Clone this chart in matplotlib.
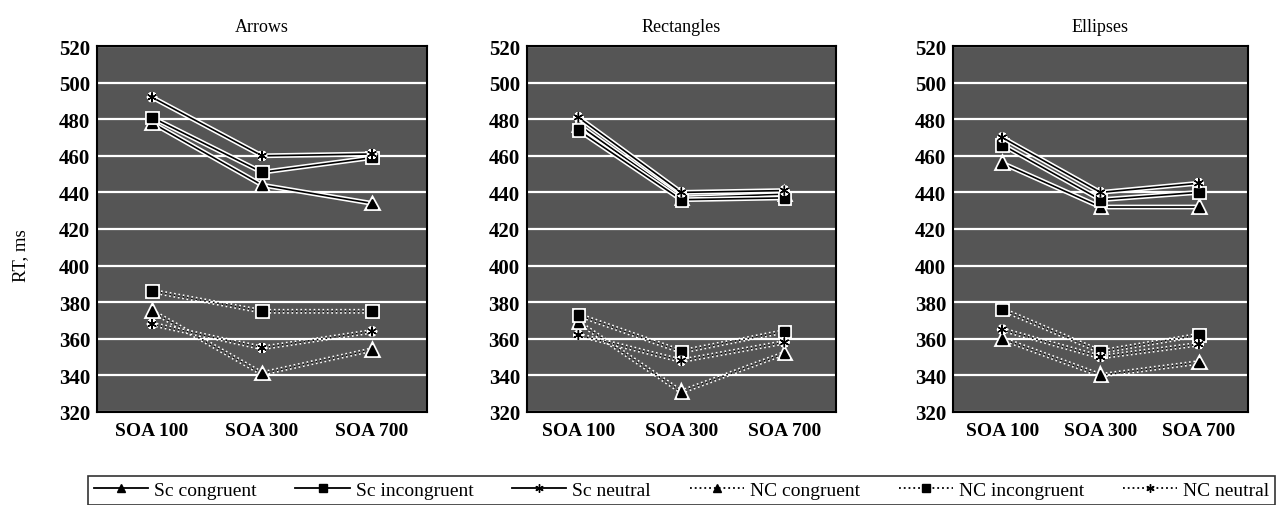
import matplotlib
matplotlib.use("Agg")
import matplotlib.pyplot as plt
import matplotlib.patheffects as pe
from matplotlib.lines import Line2D

plt.rcParams['font.family'] = ['Liberation Serif', 'DejaVu Serif']

# data (RT, ms)
soa = ['SOA 100', 'SOA 300', 'SOA 700']
panels = ['Arrows', 'Rectangles', 'Ellipses']

sc_congruent = [[478, 444, 434], [477, 437, 439], [456, 432, 432]]
sc_incongruent = [[481, 451, 459], [474, 436, 437], [466, 436, 440]]
sc_neutral = [[492, 460, 461], [481, 440, 441], [470, 440, 445]]
nc_congruent = [[375, 341, 354], [369, 331, 352], [360, 340, 347]]
nc_incongruent = [[386, 375, 375], [373, 353, 364], [376, 353, 362]]
nc_neutral = [[368, 355, 364], [362, 348, 358], [365, 350, 357]]

series = [
    ('Sc congruent', sc_congruent, '-', '^'),
    ('Sc incongruent', sc_incongruent, '-', 's'),
    ('Sc neutral', sc_neutral, '-', (6, 2, 0)),
    ('NC congruent', nc_congruent, ':', '^'),
    ('NC incongruent', nc_incongruent, ':', 's'),
    ('NC neutral', nc_neutral, ':', (6, 2, 0)),
]

fig = plt.figure(figsize=(12.82, 5.06), dpi=100)

# axes boxes in figure fractions [left, bottom, width, height]
boxes = [[0.0757, 0.184, 0.2574, 0.723],
         [0.411, 0.184, 0.241, 0.723],
         [0.7434, 0.184, 0.230, 0.723]]

halo = [pe.Stroke(linewidth=3.5, foreground='white'), pe.Normal()]

for i, name in enumerate(panels):
    ax = fig.add_axes(boxes[i])
    ax.set_facecolor('#555555')
    for label, vals, ls, mk in series:
        ax.plot(range(3), vals[i], color='black', linestyle=ls, linewidth=1.2,
                marker=mk, markersize=7, markerfacecolor='black',
                markeredgecolor='black', path_effects=halo)
    ax.set_xlim(-0.5, 2.5)
    ax.set_ylim(320, 520)
    ax.set_yticks(range(320, 521, 20))
    ax.set_xticks(range(3))
    ax.set_xticklabels(soa)
    ax.yaxis.grid(True, color='white', linewidth=1.6)
    ax.set_axisbelow(True)
    ax.tick_params(axis='x', length=0, labelsize=14, pad=7)
    ax.tick_params(axis='y', length=0, labelsize=15, pad=5)
    for t in ax.get_xticklabels() + ax.get_yticklabels():
        t.set_fontweight('bold')
    for s in ax.spines.values():
        s.set_color('black')
        s.set_linewidth(1.5)
    ax.set_title(name, fontsize=13, pad=11)
    if i == 0:
        ax.set_ylabel('RT, ms', fontsize=13.5)
        ax.yaxis.set_label_coords(-0.205, 0.43)

handles = [Line2D([0], [0], color='black', linestyle=ls, linewidth=1.3,
                  marker=mk, markersize=6, markerfacecolor='black')
           for label, vals, ls, mk in series]
labels = [s[0] for s in series]
leg = fig.legend(handles, labels, loc='lower left',
                 bbox_to_anchor=(88 / 1282, 0.0, 1187 / 1282, 0.06),
                 mode='expand', borderaxespad=0.0,
                 ncol=6, frameon=True, fontsize=14, handlelength=2.8,
                 handletextpad=0.3, borderpad=0.3, fancybox=False)
leg.get_frame().set_edgecolor('black')
leg.get_frame().set_linewidth(1.2)

fig.savefig('out.png', dpi=100)
